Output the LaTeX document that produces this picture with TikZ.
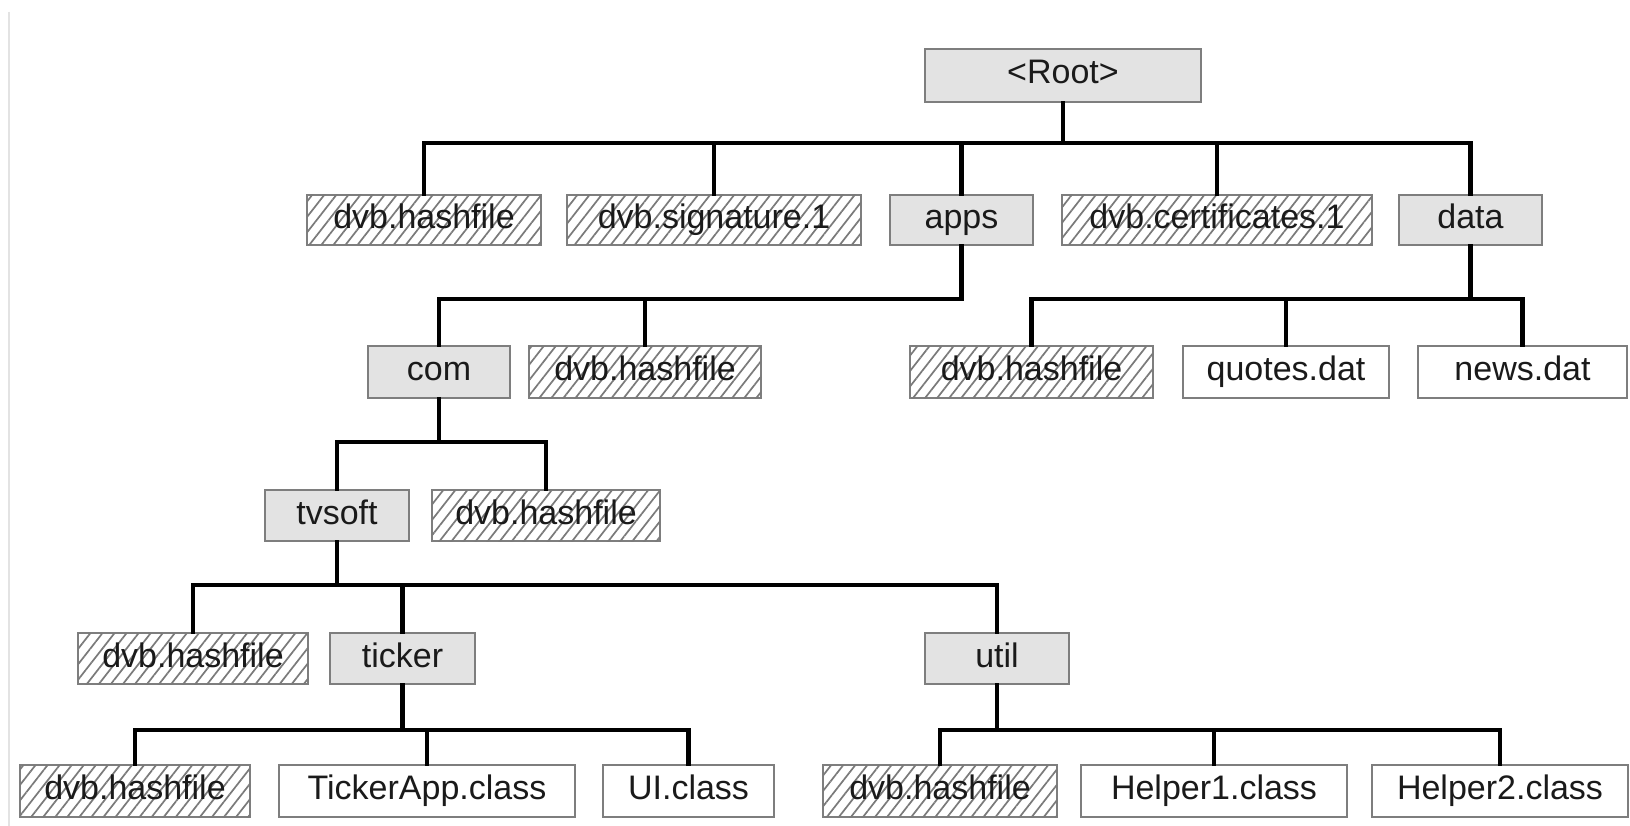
\documentclass[tikz,border=0pt]{standalone}
\usepackage{fontspec}
\setmainfont{Liberation Sans}
\usetikzlibrary{patterns.meta}

\definecolor{dirfill}{HTML}{E3E3E3}
\definecolor{boxedge}{HTML}{7E7E7E}
\definecolor{hatchgray}{HTML}{7A7A7A}
\definecolor{labelink}{HTML}{1A1A1A}

\tikzset{
  entry/.style={draw=boxedge, line width=2.2pt, inner sep=0pt, text=labelink,
    font=\fontsize{34}{38}\selectfont, text height=24pt, text depth=7pt,
    anchor=center},
  dirbox/.style={entry, fill=dirfill},
  filebox/.style={entry, fill=white},
  signedbox/.style={entry, fill=white,
    postaction={pattern={Lines[angle=52,distance=9.5pt,line width=1.7pt]},
                pattern color=hatchgray}},
  link/.style={draw=black, line width=4.3pt, line cap=rect},
}

\begin{document}
\begin{tikzpicture}[x=1pt,y=-1pt]
  \useasboundingbox[fill=white] (0,0) rectangle (1630,826);
  \draw[gray!22, line width=1.5pt] (9,12) -- (9,826);

  % ---- tree entries ----
  \node[dirbox, minimum width=276, minimum height=53] (root) at (1063,75.5) {<Root>};

  \node[signedbox, minimum width=234, minimum height=50] (hashA) at (424,220)    {dvb.hashfile};
  \node[signedbox, minimum width=294, minimum height=50] (sig)   at (714,220)    {dvb.signature.1};
  \node[dirbox,    minimum width=143, minimum height=50] (apps)  at (961.5,220)  {apps};
  \node[signedbox, minimum width=310, minimum height=50] (cert)  at (1217,220)   {dvb.certificates.1};
  \node[dirbox,    minimum width=143, minimum height=50] (data)  at (1470.5,220) {data};

  \node[dirbox,    minimum width=142, minimum height=52] (com)    at (439,372)    {com};
  \node[signedbox, minimum width=232, minimum height=52] (hashB)  at (645,372)    {dvb.hashfile};
  \node[signedbox, minimum width=243, minimum height=52] (hashC)  at (1031.5,372) {dvb.hashfile};
  \node[filebox,   minimum width=206, minimum height=52] (quotes) at (1286,372)   {quotes.dat};
  \node[filebox,   minimum width=209, minimum height=52] (news)   at (1522.5,372) {news.dat};

  \node[dirbox,    minimum width=144, minimum height=51] (tvsoft) at (337,515.5) {tvsoft};
  \node[signedbox, minimum width=228, minimum height=51] (hashD)  at (546,515.5) {dvb.hashfile};

  \node[signedbox, minimum width=230, minimum height=51] (hashE)  at (193,658.5)   {dvb.hashfile};
  \node[dirbox,    minimum width=145, minimum height=51] (ticker) at (402.5,658.5) {ticker};
  \node[dirbox,    minimum width=144, minimum height=51] (util)   at (997,658.5)   {util};

  \node[signedbox, minimum width=230, minimum height=52] (hashF)     at (135,791)   {dvb.hashfile};
  \node[filebox,   minimum width=296, minimum height=52] (tickerapp) at (427,791)   {TickerApp.class};
  \node[filebox,   minimum width=171, minimum height=52] (uiclass)   at (688.5,791) {UI.class};
  \node[signedbox, minimum width=234, minimum height=52] (hashG)     at (940,791)   {dvb.hashfile};
  \node[filebox,   minimum width=266, minimum height=52] (helperA)   at (1214,791)  {Helper1.class};
  \node[filebox,   minimum width=256, minimum height=52] (helperB)   at (1500,791)  {Helper2.class};

  % ---- bus heights of each family ----
  \coordinate (busA) at (0,143);
  \coordinate (busB) at (0,299);
  \coordinate (busC) at (0,442);
  \coordinate (busD) at (0,585);
  \coordinate (busE) at (0,730);

  % ---- connectors: parent down to bus, across, down to child ----
  \foreach \kid in {hashA,sig,apps,cert,data}
    \draw[link] (root.south) -- (root.south |- busA) -| (\kid.north);

  \foreach \kid in {com,hashB}
    \draw[link] (apps.south) -- (apps.south |- busB) -| (\kid.north);

  \foreach \kid in {hashC,quotes,news}
    \draw[link] (data.south) -- (data.south |- busB) -| (\kid.north);

  \foreach \kid in {tvsoft,hashD}
    \draw[link] (com.south) -- (com.south |- busC) -| (\kid.north);

  \foreach \kid in {hashE,ticker,util}
    \draw[link] (tvsoft.south) -- (tvsoft.south |- busD) -| (\kid.north);

  \foreach \kid in {hashF,tickerapp,uiclass}
    \draw[link] (ticker.south) -- (ticker.south |- busE) -| (\kid.north);

  \foreach \kid in {hashG,helperA,helperB}
    \draw[link] (util.south) -- (util.south |- busE) -| (\kid.north);
\end{tikzpicture}
\end{document}
